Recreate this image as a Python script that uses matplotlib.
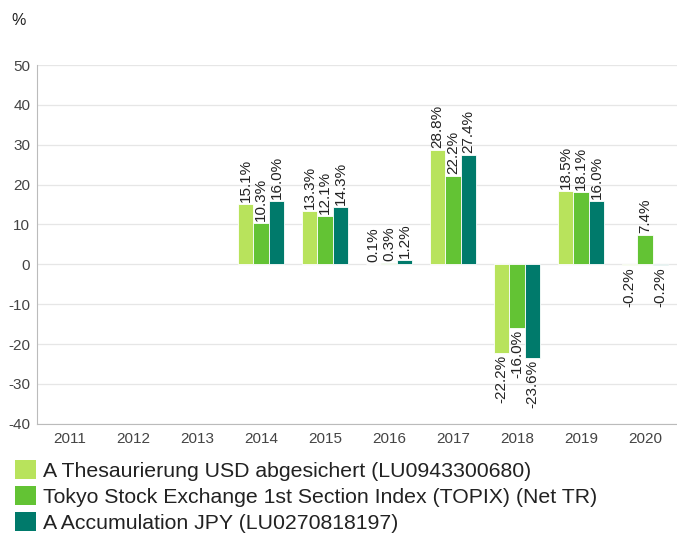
import numpy as np
import matplotlib.pyplot as plt
from matplotlib.patches import Patch

plt.rcParams['font.family'] = ['Liberation Sans', 'DejaVu Sans']
plt.rcParams['axes.unicode_minus'] = False

years = ['2011', '2012', '2013', '2014', '2015', '2016', '2017', '2018', '2019', '2020']
fund_usd = [np.nan, np.nan, np.nan, 15.1, 13.3, 0.1, 28.8, -22.2, 18.5, -0.2]
topix = [np.nan, np.nan, np.nan, 10.3, 12.1, 0.3, 22.2, -16.0, 18.1, 7.4]
fund_jpy = [np.nan, np.nan, np.nan, 16.0, 14.3, 1.2, 27.4, -23.6, 16.0, -0.2]

series_names = ['A Thesaurierung USD abgesichert (LU0943300680)',
                'Tokyo Stock Exchange 1st Section Index (TOPIX) (Net TR)',
                'A Accumulation JPY (LU0270818197)']
colors = ['#b8e35c', '#63c334', '#007a6b']

fig = plt.figure(figsize=(6.77, 5.33), dpi=100)
ax = fig.add_axes([0.055, 0.205, 0.945, 0.673])

x = np.arange(len(years))
w = 0.24
for i, (vals, col) in enumerate(zip([fund_usd, topix, fund_jpy], colors)):
    pos = x + (i - 1) * w
    ax.bar(pos, vals, width=w, color=col, edgecolor='white', linewidth=0.6, zorder=3)
    for p, v in zip(pos, vals):
        if np.isnan(v):
            continue
        if v >= 0:
            ax.text(p, v + 0.5, f'{v:.1f}%', rotation=90, ha='center', va='bottom',
                    fontsize=11, color='#222222', zorder=4)
        else:
            ax.text(p, v - 0.5, f'{v:.1f}%', rotation=90, ha='center', va='top',
                    fontsize=11, color='#222222', zorder=4)

ax.set_ylim(-40, 50)
ax.set_xlim(-0.5, len(years) - 0.5)
ax.set_yticks(np.arange(-40, 51, 10))
ax.set_xticks(x)
ax.set_xticklabels(years)
ax.yaxis.grid(True, color='#e6e6e6', linewidth=0.9, zorder=0)
ax.tick_params(axis='both', length=0, labelsize=11, colors='#444444', pad=6)
ax.tick_params(axis='y', pad=5)
for s in ['top', 'right']:
    ax.spines[s].set_visible(False)
ax.spines['left'].set_color('#bbbbbb')
ax.spines['bottom'].set_color('#bbbbbb')

fig.text(0.017, 0.962, '%', fontsize=11.5, color='#222222', va='center')

handles = [Patch(facecolor=c, edgecolor='none') for c in colors]
fig.legend(handles, series_names, loc='upper left', bbox_to_anchor=(0.022, 0.137),
           frameon=False, fontsize=15.3, handlelength=1.0, handleheight=1.0,
           handletextpad=0.3, labelspacing=0.25, borderaxespad=0, borderpad=0,
           labelcolor='#222222')

fig.savefig('out.png', dpi=100)
